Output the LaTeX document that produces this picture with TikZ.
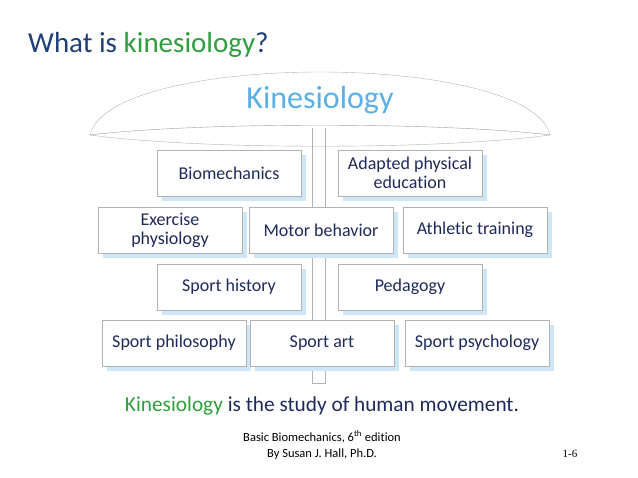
\documentclass[tikz,border=0pt]{standalone}
\usepackage{fontspec}
\setmainfont[Ligatures=NoCommon]{Carlito}
\newfontfamily\serifx{Liberation Serif}
\begin{document}
\begin{tikzpicture}[x=1pt,y=-1pt,
  box/.style={draw=gray!60,fill=white,minimum width=144pt,minimum height=46pt,inner sep=1pt,align=center,font=\fontsize{18}{19}\selectfont,text=navy},
  shad/.style={fill=shadowblue}]
\definecolor{navy}{HTML}{1F2A5C}
\definecolor{titleblue}{HTML}{1F3F7A}
\definecolor{kgreen}{HTML}{2E9E3E}
\definecolor{kblue}{HTML}{5BB0E6}
\definecolor{shadowblue}{HTML}{CFE6F7}
\useasboundingbox (0,0) rectangle (638,478);
\node[anchor=west,inner sep=0pt,text=titleblue,font=\fontsize{29}{31}\selectfont] (title) at (28,45) {What is \textcolor{kgreen}{kinesiology}?};
% stem
\draw[gray!60,fill=white] (312,128) rectangle (325,383);
% umbrella
\draw[gray!60,fill=white] (90,135) .. controls (110,51) and (530,51) .. (550,135) .. controls (440,122) and (200,122) .. cycle;
\draw[gray!60,fill=white] (90,135) .. controls (200,122) and (440,122) .. (550,135) .. controls (440,150) and (200,150) .. cycle;
\fill[white] (313,127) rectangle (324,146);
\draw[gray!60] (312,128) -- (312,147) (325,128) -- (325,147);
\node[text=kblue,font=\fontsize{32}{34}\selectfont] (kin) at (320,100) {Kinesiology};
% boxes
\foreach \n/\cx/\cy/\t in {bio/229/173/Biomechanics, ape/410/173/{Adapted physical\\education},
  ex/170/230/{Exercise\\physiology}, mb/321/230/Motor behavior, at/475/230/Athletic training,
  sh/229/287/Sport history, ped/410/287/Pedagogy,
  sp/174/343/Sport philosophy, sa/322/343/Sport art, sps/477/343/Sport psychology}{
  \fill[shad] (\cx-67,\cy-18) rectangle (\cx+77,\cy+28);
  \node[box] (\n) at (\cx,\cy) {\t};
}
\node[text=kgreen,font=\fontsize{21.3}{23}\selectfont] (def) at (322,406) {Kinesiology \textcolor{navy}{is the study of human movement.}};
\node[text=black,font=\fontsize{12.5}{16}\selectfont,align=center] (ref) at (322,445) {Basic Biomechanics, 6\textsuperscript{th} edition\\By Susan J. Hall, Ph.D.};
\node[font=\serifx\fontsize{11}{12}\selectfont] (pg) at (570,454) {1-6};
\end{tikzpicture}
\end{document}
